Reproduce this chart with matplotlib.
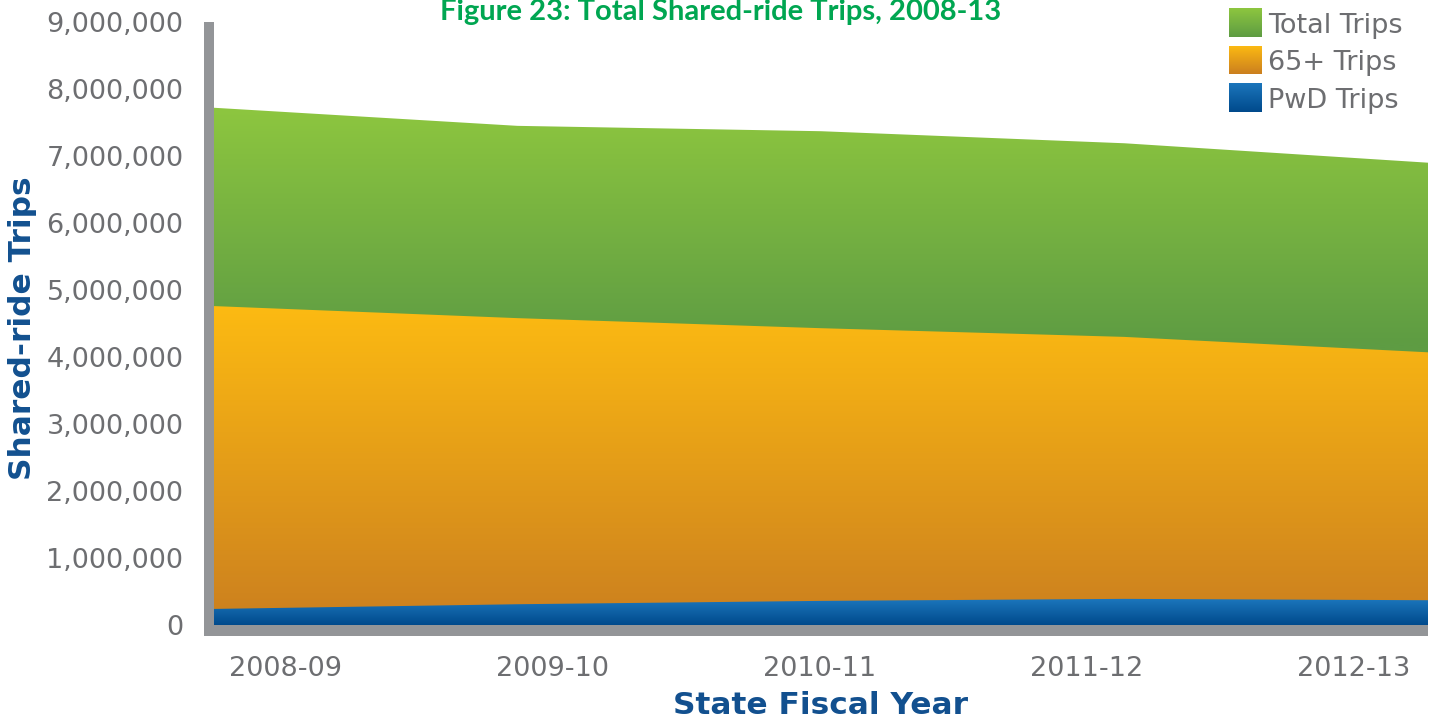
import matplotlib
matplotlib.use("Agg")
import matplotlib.pyplot as plt
import numpy as np
from matplotlib.colors import to_rgb
from matplotlib.patches import Rectangle

years = ["2008-09", "2009-10", "2010-11", "2011-12", "2012-13"]
total_trips = [7720000, 7450000, 7370000, 7190000, 6900000]
senior_trips = [4760000, 4580000, 4430000, 4300000, 4070000]
pwd_trips = [240000, 310000, 360000, 390000, 370000]

series_names = ["Total Trips", "65+ Trips", "PwD Trips"]
# (top colour, value where it sits, bottom colour, value where it sits)
gradients = [
    ("#8DC63F", 7700000, "#5E9C43", 4200000),
    ("#FDBB12", 4800000, "#CB7F1F", 0),
    ("#1B75BB", 370000, "#004A8C", 0),
]

gray_txt = "#6D6E71"
blue_txt = "#12508F"
wall = "#939598"


def gradient_area(ax, x, y, top_c, top_v, bot_c, bot_v):
    poly = ax.fill_between(x, 0, y, facecolor="none", edgecolor="none")
    vals = np.linspace(0, max(y), 400)
    t = np.clip((vals - bot_v) / (top_v - bot_v), 0, 1)[:, None]
    rgb = (1 - t) * np.array(to_rgb(bot_c)) + t * np.array(to_rgb(top_c))
    im = ax.imshow(rgb[:, None, :], extent=[x[0], x[-1], 0, max(y)],
                   origin="lower", aspect="auto", interpolation="bilinear", zorder=2)
    im.set_clip_path(poly.get_paths()[0], transform=ax.transData)


fig = plt.figure(figsize=(14.34, 7.19), dpi=100)
ax = fig.add_axes([214 / 1434, 1 - 625 / 719, (1428 - 214) / 1434, (625 - 22) / 719])

x = np.arange(len(years))
for vals, g in zip([total_trips, senior_trips, pwd_trips], gradients):
    gradient_area(ax, x, vals, *g)

ax.set_xlim(0, len(years) - 1)
ax.set_ylim(0, 9000000)

# 3-D style wall and floor
dx = 10 / 303.5
dy = 11 / 67.0 * 1e6
ax.add_patch(Rectangle((-dx, -dy), dx, 9000000 + dy, facecolor=wall,
                       edgecolor="none", clip_on=False, zorder=1))
ax.add_patch(Rectangle((-dx, -dy), len(years) - 1 + dx, dy, facecolor=wall,
                       edgecolor="none", clip_on=False, zorder=1))

for s in ax.spines.values():
    s.set_visible(False)
ax.set_yticks(np.arange(0, 9000001, 1000000))
ax.set_yticklabels([f"{v:,}" for v in range(0, 9000001, 1000000)])
ax.set_xticks([0.235 + 0.88 * i for i in range(len(years))])
ax.set_xticklabels(years)
ax.tick_params(length=0, labelsize=19.5, labelcolor=gray_txt)
ax.tick_params(axis="y", pad=22)
ax.tick_params(axis="x", pad=22)

fig.text(23 / 1434, 1 - 328 / 719, "Shared-ride Trips", fontsize=22.5, fontweight="bold",
         color=blue_txt, rotation=90, ha="center", va="center")
fig.text(820 / 1434, 1 - 705 / 719, "State Fiscal Year", fontsize=22.5, fontweight="bold",
         color=blue_txt, ha="center", va="center")

fig.text(721 / 1434, 1 - 20 / 719, "Figure 23: Total Shared-ride Trips, 2008-13",
         fontsize=21, fontweight="bold", family="Lato", color="#00A651",
         ha="center", va="baseline")

# legend with gradient swatches
for i, (name, g) in enumerate(zip(series_names, gradients)):
    top = 8 + i * 37.5
    sw = fig.add_axes([1229 / 1434, 1 - (top + 29) / 719, 33 / 1434, 29 / 719])
    t = np.linspace(0, 1, 50)[:, None]
    rgb = (1 - t) * np.array(to_rgb(g[2])) + t * np.array(to_rgb(g[0]))
    sw.imshow(rgb[:, None, :], origin="lower", aspect="auto", interpolation="bilinear")
    sw.axis("off")
    fig.text(1268 / 1434, 1 - (top + 18) / 719, name, fontsize=19.5, color=gray_txt,
             ha="left", va="center")

fig.savefig("out.png", dpi=100)
